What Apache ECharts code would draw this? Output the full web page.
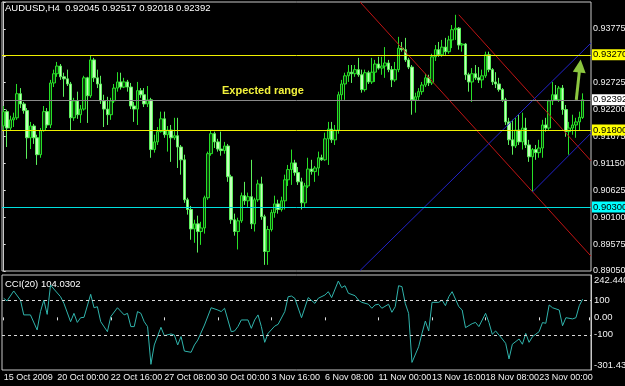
<!DOCTYPE html>
<html>
<head>
<meta charset="utf-8">
<script src="https://cdn.jsdelivr.net/npm/echarts@6/dist/echarts.min.js"></script>
<style>
  html, body { margin: 0; padding: 0; background: #000; }
  #chart { width: 625px; height: 386px; }
</style>
</head>
<body>
<div id="chart"></div>
<script>
const FONT = '"Liberation Sans Narrow", "Liberation Sans", sans-serif';

// H4 bars, 15 Oct 2009 08:00 .. 25 Nov 2009 04:00
const tickLabels = ['15 Oct 2009', '20 Oct 00:00', '22 Oct 16:00', '27 Oct 08:00', '30 Oct 00:00',
  '3 Nov 16:00', '6 Nov 08:00', '11 Nov 00:00', '13 Nov 16:00', '18 Nov 08:00', '23 Nov 00:00'];

const opens = [
  0.9188,0.9216,0.9184,0.9200,0.9204,0.9251,0.9231,0.9218,0.9165,0.9188,
  0.9165,0.9132,0.9179,0.9216,0.9190,0.9272,0.9290,0.9305,0.9284,0.9280,
  0.9270,0.9204,0.9237,0.9210,0.9221,0.9282,0.9247,0.9317,0.9282,0.9270,
  0.9237,0.9221,0.9210,0.9237,0.9262,0.9274,0.9264,0.9274,0.9264,0.9227,
  0.9221,0.9257,0.9249,0.9231,0.9239,0.9142,0.9157,0.9177,0.9202,0.9171,
  0.9180,0.9165,0.9169,0.9147,0.9122,0.9044,0.9025,0.8987,0.8997,0.8982,
  0.8989,0.9048,0.9134,0.9173,0.9157,0.9143,0.9140,0.9149,0.9089,0.9005,
  0.8982,0.9003,0.9052,0.9042,0.9050,0.8997,0.9044,0.9075,0.9011,0.8943,
  0.8986,0.9019,0.9036,0.9025,0.9042,0.9083,0.9103,0.9116,0.9097,0.9079,
  0.9038,0.9071,0.9104,0.9099,0.9106,0.9126,0.9122,0.9163,0.9182,0.9161,
  0.9180,0.9249,0.9270,0.9286,0.9293,0.9290,0.9298,0.9288,0.9259,0.9292,
  0.9274,0.9293,0.9309,0.9301,0.9305,0.9311,0.9298,0.9278,0.9298,0.9340,
  0.9337,0.9317,0.9303,0.9239,0.9245,0.9255,0.9268,0.9282,0.9272,0.9323,
  0.9337,0.9327,0.9342,0.9333,0.9356,0.9376,0.9379,0.9346,0.9348,0.9288,
  0.9274,0.9290,0.9282,0.9278,0.9286,0.9327,0.9298,0.9274,0.9270,0.9259,
  0.9239,0.9196,0.9161,0.9149,0.9180,0.9157,0.9184,0.9151,0.9128,0.9142,
  0.9136,0.9145,0.9190,0.9184,0.9237,0.9249,0.9239,0.9262,0.9220,0.9177,
  0.9184,0.9190,0.9196,0.92045
];
const closes = [
  0.9216,0.9184,0.9200,0.9204,0.9251,0.9231,0.9218,0.9165,0.9188,0.9165,
  0.9132,0.9179,0.9216,0.9190,0.9272,0.9290,0.9305,0.9284,0.9280,0.9270,
  0.9204,0.9237,0.9210,0.9221,0.9282,0.9247,0.9317,0.9282,0.9270,0.9237,
  0.9221,0.9210,0.9237,0.9262,0.9274,0.9264,0.9274,0.9264,0.9227,0.9221,
  0.9257,0.9249,0.9231,0.9239,0.9142,0.9157,0.9177,0.9202,0.9171,0.9180,
  0.9165,0.9169,0.9147,0.9122,0.9044,0.9025,0.8987,0.8997,0.8982,0.8989,
  0.9048,0.9134,0.9173,0.9157,0.9143,0.9140,0.9149,0.9089,0.9005,0.8982,
  0.9003,0.9052,0.9042,0.9050,0.8997,0.9044,0.9075,0.9011,0.8943,0.8986,
  0.9019,0.9036,0.9025,0.9042,0.9083,0.9103,0.9116,0.9097,0.9079,0.9038,
  0.9071,0.9104,0.9099,0.9106,0.9126,0.9122,0.9163,0.9182,0.9161,0.9180,
  0.9249,0.9270,0.9286,0.9293,0.9290,0.9298,0.9288,0.9259,0.9292,0.9274,
  0.9293,0.9309,0.9301,0.9305,0.9311,0.9298,0.9278,0.9298,0.9340,0.9337,
  0.9317,0.9303,0.9239,0.9245,0.9255,0.9268,0.9282,0.9272,0.9323,0.9337,
  0.9327,0.9342,0.9333,0.9356,0.9376,0.9379,0.9346,0.9348,0.9288,0.9274,
  0.9290,0.9282,0.9278,0.9286,0.9327,0.9298,0.9274,0.9270,0.9259,0.9239,
  0.9196,0.9161,0.9149,0.9180,0.9157,0.9184,0.9151,0.9128,0.9142,0.9136,
  0.9145,0.9190,0.9184,0.9237,0.9249,0.9239,0.9262,0.9220,0.9177,0.9184,
  0.9190,0.9196,0.9205,0.92392
];
const lows = [
  0.9180,0.9147,0.9179,0.9186,0.9200,0.9223,0.9212,0.9124,0.9143,0.9153,
  0.9112,0.9126,0.9177,0.9184,0.9184,0.9264,0.9284,0.9278,0.9245,0.9266,
  0.9180,0.9198,0.9202,0.9194,0.9218,0.9194,0.9243,0.9274,0.9262,0.9231,
  0.9186,0.9190,0.9200,0.9233,0.9255,0.9259,0.9262,0.9255,0.9221,0.9196,
  0.9190,0.9243,0.9225,0.9225,0.9126,0.9136,0.9151,0.9175,0.9165,0.9138,
  0.9118,0.9161,0.9106,0.9093,0.9038,0.9015,0.8966,0.8960,0.8941,0.8956,
  0.8978,0.9044,0.9130,0.9145,0.9138,0.9130,0.9134,0.9079,0.8997,0.8974,
  0.8947,0.8999,0.9034,0.9030,0.8987,0.8982,0.9040,0.9005,0.8917,0.8917,
  0.8982,0.9009,0.9017,0.9021,0.9025,0.9071,0.9073,0.9091,0.9073,0.9025,
  0.9028,0.9067,0.9093,0.9079,0.9091,0.9120,0.9120,0.9112,0.9155,0.9151,
  0.9173,0.9239,0.9239,0.9274,0.9272,0.9284,0.9284,0.9253,0.9255,0.9270,
  0.9270,0.9274,0.9298,0.9288,0.9282,0.9293,0.9264,0.9274,0.9293,0.9333,
  0.9313,0.9299,0.9210,0.9214,0.9237,0.9249,0.9264,0.9266,0.9268,0.9315,
  0.9323,0.9323,0.9327,0.9329,0.9340,0.9356,0.9337,0.9333,0.9278,0.9255,
  0.9235,0.9278,0.9272,0.9262,0.9282,0.9293,0.9268,0.9262,0.9255,0.9235,
  0.9190,0.9151,0.9132,0.9145,0.9151,0.9142,0.9145,0.9118,0.9060,0.9122,
  0.9126,0.9126,0.9177,0.9180,0.9229,0.9237,0.9235,0.9210,0.9167,0.9132,
  0.9171,0.9165,0.9180,0.92018
];
const highs = [
  0.9227,0.9220,0.9208,0.9214,0.9270,0.9262,0.9235,0.9223,0.9196,0.9192,
  0.9171,0.9184,0.9227,0.9223,0.9278,0.9298,0.9313,0.9309,0.9292,0.9298,
  0.9274,0.9243,0.9255,0.9229,0.9286,0.9284,0.9325,0.9321,0.9298,0.9286,
  0.9249,0.9245,0.9243,0.9270,0.9293,0.9292,0.9282,0.9278,0.9272,0.9235,
  0.9274,0.9262,0.9262,0.9266,0.9243,0.9171,0.9186,0.9216,0.9216,0.9188,
  0.9190,0.9204,0.9204,0.9151,0.9132,0.9048,0.9032,0.9005,0.9013,0.9001,
  0.9052,0.9138,0.9179,0.9177,0.9163,0.9177,0.9157,0.9153,0.9093,0.9017,
  0.9009,0.9058,0.9079,0.9058,0.9122,0.9048,0.9083,0.9089,0.9015,0.8993,
  0.9025,0.9052,0.9044,0.9050,0.9093,0.9112,0.9142,0.9122,0.9108,0.9087,
  0.9077,0.9126,0.9122,0.9110,0.9138,0.9132,0.9175,0.9196,0.9196,0.9190,
  0.9255,0.9278,0.9292,0.9307,0.9307,0.9307,0.9321,0.9298,0.9298,0.9296,
  0.9321,0.9317,0.9323,0.9323,0.9342,0.9317,0.9305,0.9313,0.9362,0.9352,
  0.9360,0.9321,0.9307,0.9253,0.9262,0.9274,0.9290,0.9288,0.9329,0.9346,
  0.9352,0.9356,0.9360,0.9364,0.9385,0.9405,0.9381,0.9350,0.9350,0.9292,
  0.9301,0.9307,0.9303,0.9298,0.9333,0.9333,0.9301,0.9293,0.9282,0.9262,
  0.9243,0.9204,0.9200,0.9204,0.9210,0.9214,0.9204,0.9161,0.9145,0.9151,
  0.9161,0.9200,0.9204,0.9239,0.9274,0.9268,0.9266,0.9268,0.9229,0.9196,
  0.9210,0.9204,0.9216,0.92517
];

// CCI(20): bar index of each turning point, and its value
const cciBars = [0,1,3,5,6,8,10,11,12,13,14,15,17,18,20,21,22,23,24,26,27,28,29,31,32,34,36,37,38,39,
  40,41,42,43,44,45,47,48,50,51,52,53,54,56,57,58,60,62,64,65,66,68,69,70,71,73,74,75,76,77,
  78,79,81,82,84,85,86,87,89,91,93,94,96,97,98,100,101,102,103,105,106,107,109,110,111,112,113,115,116,117,
  118,119,120,121,122,124,125,126,127,128,130,131,132,133,134,136,137,138,140,141,142,144,145,146,147,149,150,151,152,154,
  155,156,157,158,160,161,162,163,164,166,167,168,170,171,172,173];
const cciValues = [109,94,151,99,14,14,-72,33,99,17,185,162,118,80,-25,23,-29,-2,0,132,55,61,-25,-82,4,55,14,23,-53,-53,
  33,23,-25,-53,-269,-158,-57,-105,-95,-101,-158,-110,-193,-200,-158,-130,-44,55,42,33,52,-82,-78,-53,-15,-15,-63,-15,14,-53,
  -143,-92,-50,-40,33,118,122,109,-2,113,80,109,128,147,113,208,170,181,138,124,99,86,75,52,71,75,52,75,29,61,
  181,176,80,23,-258,-168,-92,-21,-78,86,86,99,67,118,147,61,42,-59,-36,-29,-53,23,-29,-97,-78,-124,-149,-238,-154,-124,
  -154,-92,-143,-111,-82,-30,-34,71,55,42,-48,-2,-9,-2,67,104.03];

// horizontal levels on the price panel
const levelValues = [0.9327, 0.92392, 0.918, 0.903];
// CCI panel: scale limits, dotted levels, scale labels
const cciMin = -301.434;
const cciMax = 242.4408;
const cciLevelValues = [100, -100];
const cciLabelValues = [242.4408, 100, 0, -100, -301.434];
const cciLabelText = ['242.4408', '100', '0.00', '-100', '-301.434'];

// trendlines: [bar index, price]
const redChannelA = [[106.5, 0.9430], [175.5, 0.8934]];
const redChannelB = [[136, 0.9405], [175.5, 0.9120]];
const blueChannelA = [[106.5, 0.8906], [175.5, 0.9350]];
const blueChannelB = [[158, 0.9059], [175.5, 0.9174]];
const arrowFrom = [171.1, 0.9239];
const arrowTo = [172.2, 0.9305];

const slots = 176;
const categories = Array.from({ length: slots }, (_, i) => String(i));
const candles = opens.map((o, i) => [o, closes[i], lows[i], highs[i]]);
const cciData = cciBars.map((b, i) => [b, cciValues[i]]);

const levelLine = ['#f0f000', '#8a8a8a', '#f0f000', '#00e0e0'];
const levelTag = ['#ffff00', '#ffffff', '#ffff00', '#00ffff'];

const chart = echarts.init(document.getElementById('chart'));

function trend(data, color, extra) {
  return Object.assign({
    type: 'line', xAxisIndex: 1, yAxisIndex: 0, data: data,
    showSymbol: false, symbol: 'none', silent: true,
    lineStyle: { color: color, width: 1 }, z: 4
  }, extra || {});
}

const option = {
  animation: false,
  backgroundColor: '#000',
  textStyle: { fontFamily: FONT },
  grid: [
    { left: 2, top: 2, width: 589, height: 269, outerBoundsMode: 'none', containLabel: false,
      show: true, borderColor: '#c8c8c8', borderWidth: 1, backgroundColor: '#000' },
    { left: 2, top: 275, width: 589, height: 95, outerBoundsMode: 'none', containLabel: false,
      show: true, borderColor: '#c8c8c8', borderWidth: 1, backgroundColor: '#000' }
  ],
  xAxis: [
    { type: 'category', gridIndex: 0, data: categories, boundaryGap: true, show: false },
    { type: 'value', gridIndex: 0, min: -0.5, max: slots - 0.5, show: false },
    {
      type: 'category', gridIndex: 1, data: categories, boundaryGap: true,
      axisLine: { show: false },
      axisTick: { show: true, interval: 15, alignWithLabel: true, length: 3, lineStyle: { color: '#e0e0e0' } },
      axisLabel: {
        interval: 15, align: 'left', margin: 3, color: '#f0f0f0', fontSize: 9, fontFamily: FONT,
        hideOverlap: false, showMinLabel: true, showMaxLabel: true,
        formatter: (v, idx) => (idx % 16 === 0 ? (tickLabels[idx / 16] || '') : '')
      },
      splitLine: { show: false }
    }
  ],
  yAxis: [
    {
      type: 'value', gridIndex: 0, position: 'right', min: 0.8905, max: 0.943, interval: 0.00525,
      axisLine: { show: true, lineStyle: { color: '#c8c8c8' } },
      axisTick: { show: true, length: 2, lineStyle: { color: '#e0e0e0' } },
      splitLine: { show: false },
      axisLabel: {
        margin: 2, color: '#f0f0f0', fontSize: 9, fontFamily: FONT,
        formatter: v => (v > 0.942 || Math.abs(v - 0.9325) < 1e-6 ? '' : v.toFixed(5))
      }
    },
    {
      type: 'value', gridIndex: 1, position: 'right', min: cciMin, max: cciMax,
      axisLine: { show: true, lineStyle: { color: '#c8c8c8' } },
      axisTick: { show: false }, axisLabel: { show: false }, splitLine: { show: false }
    }
  ],
  series: [
    {
      type: 'candlestick', xAxisIndex: 0, yAxisIndex: 0, data: candles, barWidth: 3,
      itemStyle: { color: '#0c3c0c', color0: '#c4ffbc', borderColor: '#27e027', borderColor0: '#5cf05c', borderWidth: 1 },
      z: 3
    },
    trend(redChannelA, '#c01414', {
      // price tags of the horizontal levels (the lines themselves are drawn pixel-snapped below)
      markLine: {
        silent: true, symbol: 'none', precision: 5,
        data: levelValues.map((v, k) => ({
          yAxis: v,
          lineStyle: { color: 'rgba(0,0,0,0)', width: 1, type: 'solid' },
          label: {
            show: true, position: 'end', distance: 1, formatter: v.toFixed(5),
            color: '#000', backgroundColor: levelTag[k], padding: [1, 1, 0, 1],
            fontSize: 9.5, fontFamily: FONT
          }
        }))
      }
    }),
    trend(redChannelB, '#c01414'),
    trend(blueChannelA, '#2222c8'),
    trend(blueChannelB, '#2222c8', {
      markLine: {
        silent: true, symbol: ['none', 'triangle'], symbolSize: 13, precision: 5,
        label: { show: false },
        lineStyle: { color: '#8cc63f', width: 3, type: 'solid' },
        data: [[{ coord: arrowFrom }, { coord: arrowTo }]]
      }
    }),
    {
      type: 'line', xAxisIndex: 2, yAxisIndex: 1, data: cciData,
      showSymbol: false, symbol: 'none', silent: true,
      lineStyle: { color: '#30b4ac', width: 1 },
      markLine: {
        silent: true, symbol: 'none', label: { show: false }, precision: 4,
        lineStyle: { color: '#d8d8d8', width: 1, type: [3, 3] },
        data: cciLevelValues.map(v => ({ yAxis: v }))
      }
    }
  ]
};

chart.setOption(option);

// texts: header, annotation, indicator name, and CCI scale labels placed through the CCI axis
const elements = [
  { type: 'text', left: 5, top: 3, style: { text: 'AUDUSD,H4  0.92045 0.92517 0.92018 0.92392', fill: '#ffffff', font: '9.5px ' + FONT } },
  { type: 'text', left: 222, top: 85, style: { text: 'Expected range', fill: '#f2f23c', font: 'bold 11px "Liberation Sans", Arial, sans-serif' } },
  { type: 'text', left: 5, top: 279, style: { text: 'CCI(20) 104.0302', fill: '#ffffff', font: '9.5px ' + FONT } }
];
cciLabelValues.forEach((v, k) => {
  const y = chart.convertToPixel({ yAxisIndex: 1 }, v);
  const shift = k === 0 ? 5 : (k === cciLabelValues.length - 1 ? -5 : 0);
  elements.push({
    type: 'text', x: 594, y: y + shift,
    style: { text: cciLabelText[k], fill: '#f0f0f0', font: '9.5px ' + FONT, verticalAlign: 'middle' }
  });
});
// horizontal level lines, positioned through the price axis and snapped to whole pixels
const xLeft = chart.convertToPixel({ xAxisIndex: 1 }, -0.5);
const xRight = chart.convertToPixel({ xAxisIndex: 1 }, slots - 0.5);
levelValues.forEach((v, k) => {
  const y = Math.round(chart.convertToPixel({ yAxisIndex: 0 }, v)) + 0.5;
  elements.push({
    type: 'line', z: 5, silent: true,
    shape: { x1: xLeft, y1: y, x2: xRight, y2: y },
    style: { stroke: levelLine[k], lineWidth: 1 }
  });
});
chart.setOption({ graphic: elements });
</script>
</body>
</html>
